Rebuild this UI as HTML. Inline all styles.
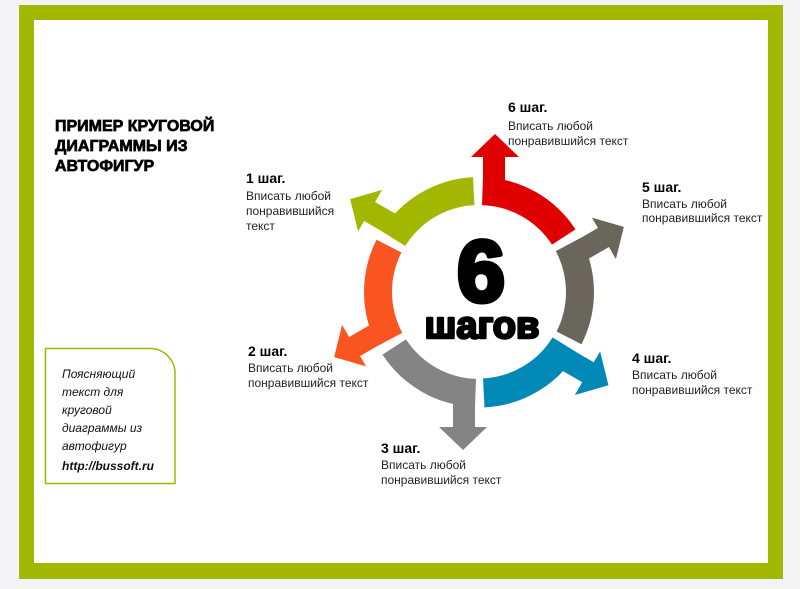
<!DOCTYPE html>
<html><head><meta charset="utf-8"><style>
html,body{margin:0;padding:0;background:#fff;}
body{width:800px;height:589px;overflow:hidden;}
svg{display:block;}
text{font-family:"Liberation Sans",sans-serif;}
</style></head><body>
<svg width="800" height="589" viewBox="0 0 800 589">
<rect x="0" y="0" width="800" height="589" fill="#f4f4f6"/>
<rect x="19" y="5" width="764" height="574" fill="#a2b800"/>
<rect x="34" y="20" width="734" height="543" fill="#fff"/>

<text font-weight="bold" font-size="16" fill="#000" stroke="#000" stroke-width="0.7">
<tspan x="55" y="131">ПРИМЕР КРУГОВОЙ</tspan>
<tspan x="55" y="151">ДИАГРАММЫ ИЗ</tspan>
<tspan x="55" y="171">АВТОФИГУР</tspan>
</text>

<path d="M45.5,348.5 H150 A25,25 0 0 1 175,373.5 V483.5 H45.5 Z" fill="#fff" stroke="#a2b800" stroke-width="1.5"/>
<text font-style="italic" font-size="12" fill="#111">
<tspan x="62" y="378">Поясняющий</tspan>
<tspan x="62" y="396">текст для</tspan>
<tspan x="62" y="414">круговой</tspan>
<tspan x="62" y="432">диаграммы из</tspan>
<tspan x="62" y="450">автофигур</tspan>
<tspan x="62" y="470" font-weight="bold">http://bussoft.ru</tspan>
</text>

<defs>
<g id="seg">
<path d="M483,177.1 A115,115 0 0 1 575.5,229.4 L552,244.6 A87,87 0 0 0 482,205.1 Z"/>
<rect x="483" y="152" width="22" height="50"/>
<polygon points="471,157 519,157 495,134"/>
</g>
</defs>
<use href="#seg" fill="#e00000"/>
<use href="#seg" fill="#6b665c" transform="rotate(60 479 292)"/>
<use href="#seg" fill="#0089b7" stroke="#0089b7" stroke-width="1" transform="rotate(120 479 292)"/>
<use href="#seg" fill="#848484" transform="rotate(180 479 292)"/>
<use href="#seg" fill="#fa5420" transform="rotate(240 479 292)"/>
<use href="#seg" fill="#a2b800" transform="rotate(300 479 292)"/>

<text x="481" y="301" text-anchor="middle" font-weight="bold" font-size="86" fill="#000" stroke="#000" stroke-width="5" stroke-linejoin="round">6</text>
<text x="482" y="338" text-anchor="middle" font-weight="bold" font-size="38" fill="#000" stroke="#000" stroke-width="2.5" stroke-linejoin="round">шагов</text>

<g font-size="12" fill="#222">
<text x="508" y="112" font-weight="bold" font-size="14" fill="#000">6 шаг.</text>
<text x="508" y="130">Вписать любой</text>
<text x="508" y="145">понравившийся текст</text>

<text x="642" y="192" font-weight="bold" font-size="14" fill="#000">5 шаг.</text>
<text x="642" y="208">Вписать любой</text>
<text x="642" y="222">понравившийся текст</text>

<text x="632" y="363" font-weight="bold" font-size="14" fill="#000">4 шаг.</text>
<text x="632" y="379">Вписать любой</text>
<text x="632" y="394">понравившийся текст</text>

<text x="381" y="453" font-weight="bold" font-size="14" fill="#000">3 шаг.</text>
<text x="381" y="469">Вписать любой</text>
<text x="381" y="484">понравившийся текст</text>

<text x="248" y="356" font-weight="bold" font-size="14" fill="#000">2 шаг.</text>
<text x="248" y="372">Вписать любой</text>
<text x="248" y="387">понравившийся текст</text>

<text x="246" y="183" font-weight="bold" font-size="14" fill="#000">1 шаг.</text>
<text x="246" y="200">Вписать любой</text>
<text x="246" y="215">понравившийся</text>
<text x="246" y="230">текст</text>
</g>
</svg>
</body></html>
